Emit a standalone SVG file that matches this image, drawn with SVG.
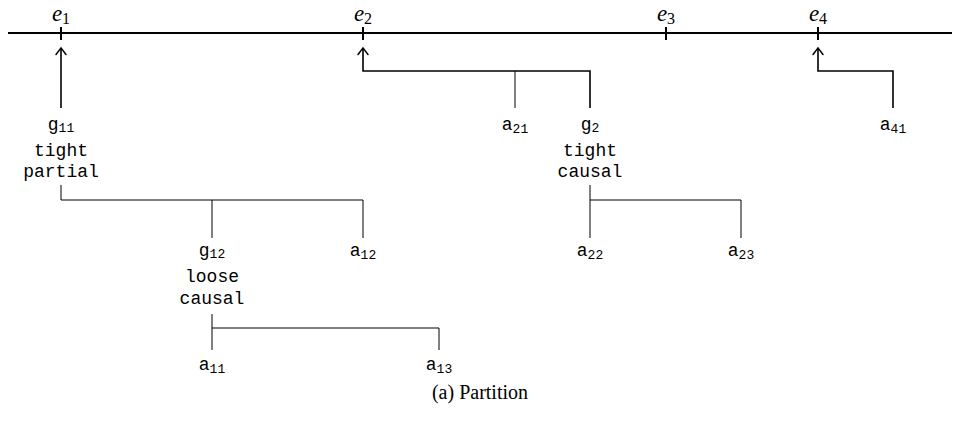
<svg xmlns="http://www.w3.org/2000/svg" width="960" height="426" viewBox="0 0 960 426">
<defs>
<marker id="tip" markerUnits="userSpaceOnUse" orient="auto" refX="0" refY="0" markerWidth="14" markerHeight="14" viewBox="-8 -7 10 14" overflow="visible">
<path d="M-6.5 -5 Q -1.5 -1.2 0 0 Q -1.5 1.2 -6.5 5" fill="none" stroke="#000" stroke-width="1.5" stroke-linecap="round"/>
</marker>
<style>
.m{font-family:"Liberation Serif","Times New Roman",serif;font-size:23px;font-style:italic;fill:#000;text-anchor:middle}
.ms{font-style:normal;font-size:16px}
.t{font-family:"Liberation Mono","DejaVu Sans Mono",monospace;font-size:18px;fill:#000;text-anchor:middle}
.s{font-size:13px}
.axis{stroke:#000;stroke-width:2;fill:none}
.arr{stroke:#000;stroke-width:1.6;fill:none;marker-end:url(#tip)}
.ln{stroke:#000;stroke-width:1;fill:none}
.cap{font-family:"Liberation Serif","Times New Roman",serif;font-size:20px;fill:#000;text-anchor:middle}
</style>
</defs>
<g id="timeline">
<path class="axis" d="M8 33H952M61 27V40M363 27V40M666 27V40M818 27V40"/>
<text class="m" x="61" y="21">e<tspan class="ms" dy="3">1</tspan></text>
<text class="m" x="363" y="21">e<tspan class="ms" dy="3">2</tspan></text>
<text class="m" x="666" y="21">e<tspan class="ms" dy="3">3</tspan></text>
<text class="m" x="818" y="21">e<tspan class="ms" dy="3">4</tspan></text>
</g>
<g id="connectors">
<path class="arr" d="M61 108V48"/>
<path class="arr" d="M590 108V71H363V48"/>
<path class="ln" d="M515 108V71"/>
<path class="arr" d="M893 108V71H818V48"/>
<path class="ln" d="M61 185V200H363V238M212 200V238"/>
<path class="ln" d="M590 185V238M590 200H741V238"/>
<path class="ln" d="M212 314V350M212 328H439V350"/>
</g>
<g id="g11"><text class="t" x="61" y="130">g<tspan class="s" dy="2">11</tspan></text><text class="t" x="61" y="156">tight</text><text class="t" x="61" y="177">partial</text></g>
<g id="a21"><text class="t" x="515" y="130">a<tspan class="s" dy="3">21</tspan></text></g>
<g id="g2"><text class="t" x="590" y="130">g<tspan class="s" dy="2">2</tspan></text><text class="t" x="590" y="156">tight</text><text class="t" x="590" y="177">causal</text></g>
<g id="a41"><text class="t" x="893" y="130">a<tspan class="s" dy="3">41</tspan></text></g>
<g id="g12"><text class="t" x="212" y="256">g<tspan class="s" dy="2">12</tspan></text><text class="t" x="212" y="282">loose</text><text class="t" x="212" y="304">causal</text></g>
<g id="a12"><text class="t" x="363" y="256">a<tspan class="s" dy="3">12</tspan></text></g>
<g id="a22"><text class="t" x="590" y="256">a<tspan class="s" dy="3">22</tspan></text></g>
<g id="a23"><text class="t" x="741" y="256">a<tspan class="s" dy="3">23</tspan></text></g>
<g id="a11"><text class="t" x="212" y="370">a<tspan class="s" dy="3">11</tspan></text></g>
<g id="a13"><text class="t" x="439" y="370">a<tspan class="s" dy="3">13</tspan></text></g>
<text class="cap" x="480" y="399">(a) Partition</text>
</svg>
